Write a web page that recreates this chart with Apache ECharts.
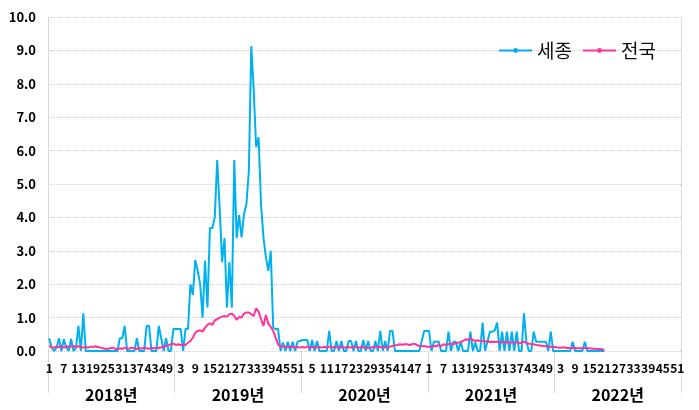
<!DOCTYPE html>
<html>
<head>
<meta charset="utf-8">
<script src="https://cdn.jsdelivr.net/npm/echarts@6/dist/echarts.min.js"></script>
<style>
html,body{margin:0;padding:0;background:#fff;}
#chart{width:699px;height:410px;}
</style>
</head>
<body>
<div id="chart"></div>
<script>
const years = ['2018년','2019년','2020년','2021년','2022년'];
const weeksPerYear = 52;
const seriesNames = ['세종','전국'];

const sejong2018 = [0.38,0.1,0,0.1,0.38,0,0.35,0.1,0,0.36,
  0,0.1,0.75,0,1.13,0,0,0,0,0,
  0,0,0,0,0,0,0,0,0,0.38,
  0.38,0.75,0,0,0,0,0.38,0,0,0,
  0.75,0.75,0,0,0,0.75,0.38,0,0.38,0,
  0,0.66];
const sejong2019 = [0.66,0.66,0.66,0,0.66,0.66,2.0,1.68,2.72,2.4,
  2.0,1.0,2.7,1.3,3.68,3.68,4.0,5.72,4.3,2.66,
  3.38,1.3,2.66,1.3,5.72,3.38,4.07,3.4,4.1,4.4,
  5.4,9.13,7.8,6.1,6.4,4.4,3.4,2.8,2.4,3.0,
  0.7,0.66,0.66,0,0.25,0,0.28,0,0.28,0,
  0.28,0.3];
const sejong2020 = [0.33,0.33,0.33,0,0.33,0,0.3,0,0,0,
  0,0.6,0,0,0.3,0,0.3,0,0,0.3,
  0.3,0,0.3,0,0,0.33,0,0.3,0,0,
  0.3,0,0.6,0,0.3,0,0.6,0.6,0,0,
  0,0,0,0,0,0,0,0,0,0.3,
  0.6,0.6];
const sejong2021 = [0.6,0,0.28,0.28,0.28,0,0,0,0.58,0,
  0.28,0.28,0,0.28,0,0,0,0.58,0,0.25,
  0,0,0.85,0,0.28,0.58,0.58,0.62,0.85,0,
  0.58,0,0.58,0,0.58,0,0.58,0,0,1.13,
  0.28,0,0,0.58,0.28,0.28,0.28,0.28,0.28,0,
  0.58,0];
const sejong2022 = [0,0,0,0,0,0,0,0.28,0,0,
  0,0,0.28,0,0,0,0,0,0,0,
  0];

const nation2018 = [0.15,0.12,0.1,0.13,0.12,0.14,0.1,0.15,0.12,0.13,
  0.15,0.12,0.14,0.12,0.1,0.12,0.1,0.13,0.12,0.14,
  0.12,0.1,0.08,0.07,0.06,0.08,0.1,0.07,0.05,0.08,
  0.06,0.1,0.08,0.07,0.1,0.08,0.06,0.09,0.07,0.1,
  0.08,0.07,0.09,0.08,0.1,0.09,0.11,0.12,0.15,0.18,
  0.2,0.22];
const nation2019 = [0.18,0.2,0.18,0.18,0.18,0.25,0.3,0.4,0.55,0.6,
  0.62,0.58,0.7,0.78,0.83,0.78,0.92,0.95,1.0,1.03,
  1.05,1.03,1.1,1.12,1.05,0.93,1.02,1.0,1.12,1.15,
  1.15,1.1,1.05,1.28,1.18,0.95,0.75,1.08,0.82,0.72,
  0.6,0.4,0.2,0.13,0.15,0.13,0.12,0.13,0.12,0.1,
  0.12,0.1];
const nation2020 = [0.12,0.1,0.13,0.1,0.12,0.1,0.11,0.12,0.1,0.12,
  0.11,0.13,0.1,0.12,0.11,0.1,0.12,0.1,0.11,0.12,
  0.1,0.13,0.12,0.1,0.11,0.12,0.1,0.09,0.1,0.12,
  0.11,0.13,0.12,0.1,0.12,0.1,0.13,0.15,0.17,0.18,
  0.2,0.19,0.2,0.2,0.18,0.2,0.22,0.18,0.15,0.14,
  0.15,0.13];
const nation2021 = [0.13,0.12,0.15,0.14,0.18,0.15,0.2,0.18,0.2,0.22,
  0.2,0.24,0.25,0.27,0.3,0.35,0.33,0.38,0.33,0.3,
  0.32,0.3,0.3,0.28,0.3,0.27,0.28,0.27,0.28,0.26,
  0.27,0.26,0.27,0.25,0.26,0.25,0.26,0.25,0.24,0.28,
  0.24,0.22,0.2,0.2,0.18,0.17,0.16,0.15,0.14,0.13,
  0.13,0.12];
const nation2022 = [0.12,0.1,0.1,0.11,0.1,0.09,0.09,0.1,0.09,0.08,
  0.08,0.09,0.09,0.08,0.08,0.07,0.07,0.06,0.06,0.05,
  0.03];

const yTicks = [0,1,2,3,4,5,6,7,8,9,10];

const weekLabels = [];
years.forEach(() => { for (let w = 1; w <= weeksPerYear; w++) weekLabels.push(String(w)); });
const sejong = [].concat(sejong2018, sejong2019, sejong2020, sejong2021, sejong2022);
const nation = [].concat(nation2018, nation2019, nation2020, nation2021, nation2022);

const FONT = '"Noto Sans CJK KR", "Noto Sans", sans-serif';
const dotted = {color:'#d0d0d0', type:'dotted', width:1};

const chart = echarts.init(document.getElementById('chart'), null, {renderer:'canvas'});
chart.setOption({
  animation:false,
  backgroundColor:'#fff',
  textStyle:{fontFamily:FONT},
  grid:{left:48, right:18, top:17, bottom:59, containLabel:false},
  legend:{
    data:seriesNames, right:38, top:36, itemWidth:33, itemHeight:6, itemGap:10,
    textStyle:{fontSize:19, color:'#111', fontFamily:FONT}
  },
  xAxis:[{
    type:'category', data:weekLabels, boundaryGap:true,
    axisLine:{show:false}, axisTick:{show:false}, splitLine:{show:false},
    axisLabel:{interval:5, fontSize:12, fontWeight:'bold', color:'#000', margin:11, fontFamily:FONT, hideOverlap:false}
  },{
    type:'category', data:years, boundaryGap:true, position:'bottom',
    axisLine:{show:false},
    axisTick:{show:true, length:42, lineStyle:{color:'#d9d9d9', width:1}},
    axisLabel:{fontSize:16, fontWeight:'bold', color:'#000', margin:36, fontFamily:FONT},
    splitLine:{show:false}
  }],
  yAxis:[{
    type:'value', min:yTicks[0], max:yTicks[yTicks.length-1], interval:1,
    axisLine:{show:true, lineStyle:dotted}, axisTick:{show:false},
    axisLabel:{formatter:v=>v.toFixed(1), fontSize:13, fontWeight:'bold', color:'#000', margin:12, fontFamily:FONT},
    splitLine:{show:true, lineStyle:dotted}
  },{
    type:'value', min:yTicks[0], max:yTicks[yTicks.length-1], interval:1, position:'right',
    axisLine:{show:true, lineStyle:dotted}, axisTick:{show:false},
    axisLabel:{show:false}, splitLine:{show:false}
  }],
  series:[{
    name:seriesNames[0], type:'line', data:sejong, xAxisIndex:0, yAxisIndex:0,
    symbol:'circle', symbolSize:4, showSymbol:false,
    lineStyle:{color:'#00b0f0', width:2}, itemStyle:{color:'#00b0f0'}
  },{
    name:seriesNames[1], type:'line', data:nation, xAxisIndex:0, yAxisIndex:0,
    symbol:'circle', symbolSize:4, showSymbol:false,
    lineStyle:{color:'#ff3399', width:2}, itemStyle:{color:'#ff3399'}
  }]
});
</script>
</body>
</html>
